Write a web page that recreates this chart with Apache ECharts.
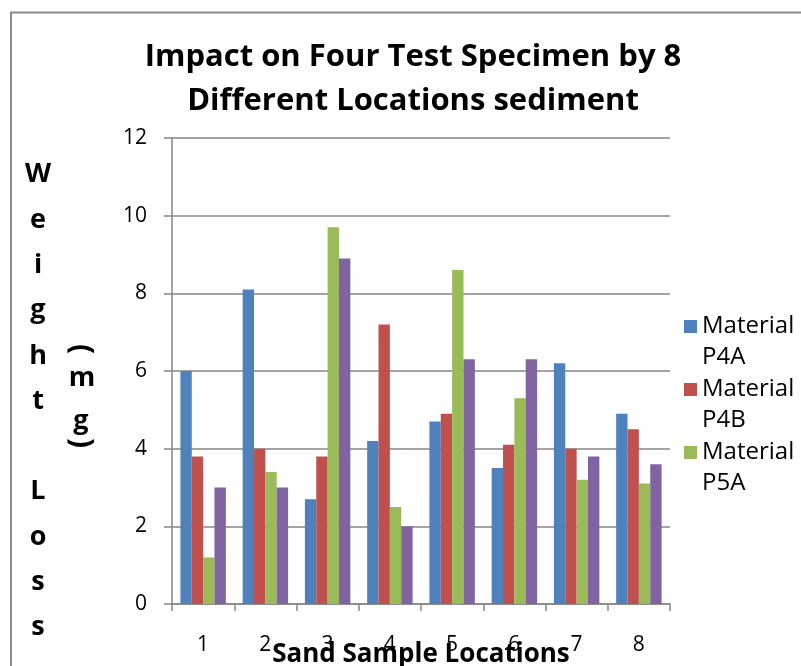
<!DOCTYPE html>
<html>
<head>
<meta charset="utf-8">
<script src="https://cdn.jsdelivr.net/npm/echarts@6/dist/echarts.min.js"></script>
<style>
html,body{margin:0;padding:0;background:#fff;}
#chart{width:801px;height:666px;}
</style>
</head>
<body>
<div id="chart"></div>
<script>
var categories = ['1','2','3','4','5','6','7','8'];
var seriesNames = ['Material P4A','Material P4B','Material P5A','Material P5B'];
var p4a = [6.0, 8.1, 2.7, 4.2, 4.7, 3.5, 6.2, 4.9];
var p4b = [3.8, 4.0, 3.8, 7.2, 4.9, 4.1, 4.0, 4.5];
var p5a = [1.2, 3.4, 9.7, 2.5, 8.6, 5.3, 3.2, 3.1];
var p5b = [3.0, 3.0, 8.9, 2.0, 6.3, 6.3, 3.8, 3.6];
var yTicks = {min: 0, max: 12, interval: 2};
var titleText = 'Impact on Four Test Specimen by 8\nDifferent Locations sediment';
var xName = 'Sand Sample Locations';
var yNameMain = 'W\ne\ni\ng\nh\nt\n\nL\no\ns\ns';

var colors = ['#4F81BD','#C0504D','#9BBB59','#8064A2'];
var FONT = '"Open Sans", "Liberation Sans", sans-serif';
var chart = echarts.init(document.getElementById('chart'), null, {renderer:'canvas'});
var values = [p4a, p4b, p5a, p5b];

var option = {
  animation: false,
  backgroundColor: '#fff',
  color: colors,
  textStyle: {fontFamily: FONT},
  title: {
    text: titleText,
    left: 413,
    top: 35,
    textAlign: 'center',
    padding: 0,
    textStyle: {fontFamily: FONT, fontWeight: 'bold', fontSize: 31, lineHeight: 44, color: '#000'}
  },
  legend: {
    data: seriesNames.slice(0,3),
    orient: 'vertical',
    left: 684,
    top: 280,
    padding: 0,
    itemWidth: 13,
    itemHeight: 13,
    itemGap: -30,
    icon: 'rect',
    formatter: function(n){ return '\n' + n.replace(' ', '\n'); },
    textStyle: {fontFamily: FONT, fontSize: 24, lineHeight: 31, color: '#000'}
  },
  grid: {left: 172, right: 131, top: 138, bottom: 62, containLabel: false, outerBoundsMode: 'none'},
  xAxis: {
    type: 'category',
    data: categories,
    name: xName,
    nameLocation: 'middle',
    nameGap: 38,
    nameMoveOverlap: false,
    nameTextStyle: {fontFamily: FONT, fontWeight: 'bold', fontSize: 26, color: '#000'},
    axisLine: {lineStyle: {color: '#868686', width: 1.5}},
    axisTick: {show: true, length: 7, alignWithLabel: false, lineStyle: {color: '#868686', width: 1.5}},
    axisLabel: {margin: 31, fontSize: 21, color: '#000', fontFamily: FONT},
    splitLine: {show: false}
  },
  yAxis: {
    type: 'value',
    min: yTicks.min, max: yTicks.max, interval: yTicks.interval,
    axisLine: {show: true, lineStyle: {color: '#868686', width: 1.5}},
    axisTick: {show: true, length: 8, lineStyle: {color: '#868686', width: 1.5}},
    axisLabel: {margin: 25, fontSize: 21, color: '#000', fontFamily: FONT},
    splitLine: {show: true, lineStyle: {color: '#868686', width: 1.5}}
  },
  series: values.map(function(v, i){
    return {
      name: seriesNames[i],
      type: 'bar',
      data: v,
      barGap: '0%',
      barCategoryGap: '27%',
      itemStyle: {color: colors[i]}
    };
  }),
  graphic: [
    {type: 'rect', silent: true, shape: {x: 11, y: 12.5, width: 820, height: 700},
     style: {fill: 'none', stroke: '#8c8c8c', lineWidth: 2}},
    {type: 'text', silent: true, x: 38, y: 152,
     style: {text: yNameMain, textAlign: 'center', textVerticalAlign: 'top', font: 'bold 27px ' + FONT, lineHeight: 45.3, fill: '#000'}},
    {type: 'text', silent: true, x: 81, y: 349, rotation: -Math.PI/2,
     style: {text: '(', textAlign: 'center', textVerticalAlign: 'middle', font: 'bold 30px ' + FONT, fill: '#000'}},
    {type: 'text', silent: true, x: 82, y: 378,
     style: {text: 'm', textAlign: 'center', textVerticalAlign: 'middle', font: 'bold 27px ' + FONT, fill: '#000'}},
    {type: 'text', silent: true, x: 81, y: 421,
     style: {text: 'g', textAlign: 'center', textVerticalAlign: 'middle', font: 'bold 27px ' + FONT, fill: '#000'}},
    {type: 'text', silent: true, x: 81, y: 443, rotation: -Math.PI/2,
     style: {text: ')', textAlign: 'center', textVerticalAlign: 'middle', font: 'bold 30px ' + FONT, fill: '#000'}}
  ]
};
chart.setOption(option);
</script>
</body>
</html>
